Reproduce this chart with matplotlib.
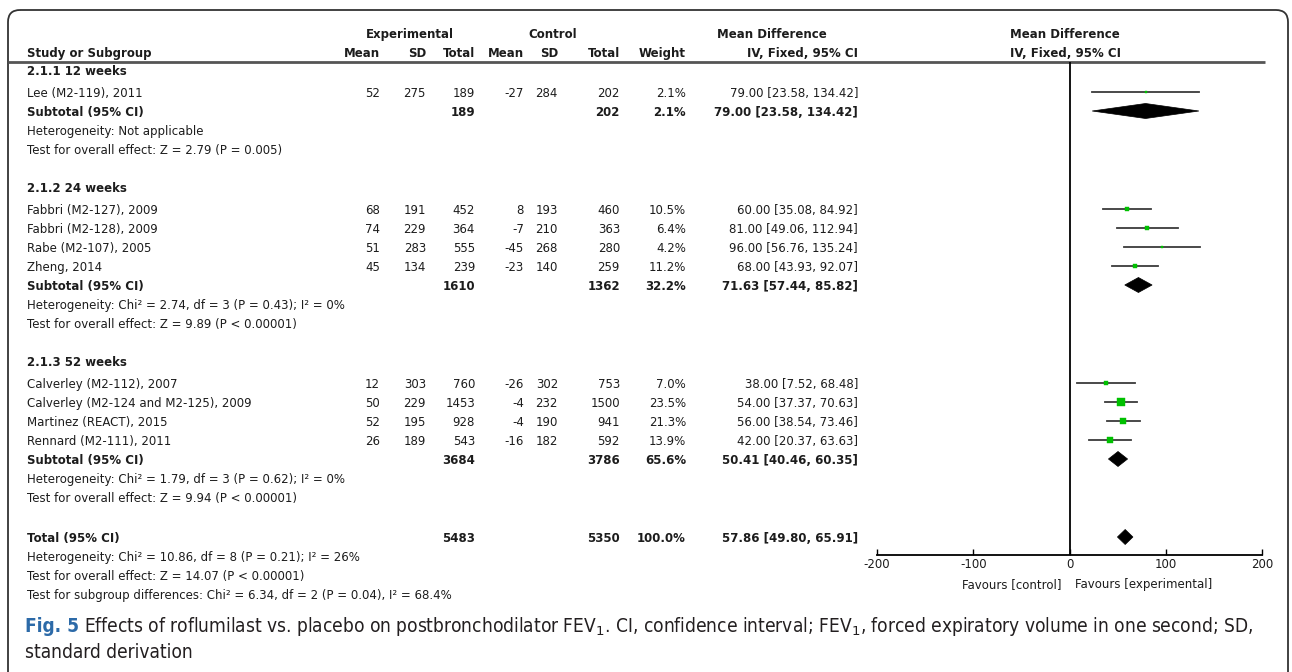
import numpy as np
import matplotlib
matplotlib.use('Agg')
import matplotlib.pyplot as plt
from matplotlib import font_manager
from matplotlib.patches import FancyBboxPatch, Polygon

# subgroups
groups = ["2.1.1 12 weeks", "2.1.2 24 weeks", "2.1.3 52 weeks"]

study_names = [
    ["Lee (M2-119), 2011"],
    ["Fabbri (M2-127), 2009", "Fabbri (M2-128), 2009", "Rabe (M2-107), 2005", "Zheng, 2014"],
    ["Calverley (M2-112), 2007", "Calverley (M2-124 and M2-125), 2009",
     "Martinez (REACT), 2015", "Rennard (M2-111), 2011"],
]
exp_mean = [[52], [68, 74, 51, 45], [12, 50, 52, 26]]
exp_sd = [[275], [191, 229, 283, 134], [303, 229, 195, 189]]
exp_n = [[189], [452, 364, 555, 239], [760, 1453, 928, 543]]
ctl_mean = [[-27], [8, -7, -45, -23], [-26, -4, -4, -16]]
ctl_sd = [[284], [193, 210, 268, 140], [302, 232, 190, 182]]
ctl_n = [[202], [460, 363, 280, 259], [753, 1500, 941, 592]]
weight = [[2.1], [10.5, 6.4, 4.2, 11.2], [7.0, 23.5, 21.3, 13.9]]
md = [[79.00], [60.00, 81.00, 96.00, 68.00], [38.00, 54.00, 56.00, 42.00]]
ci_lo = [[23.58], [35.08, 49.06, 56.76, 43.93], [7.52, 37.37, 38.54, 20.37]]
ci_hi = [[134.42], [84.92, 112.94, 135.24, 92.07], [68.48, 70.63, 73.46, 63.63]]

# subgroup pooled results
sub_exp_n = [189, 1610, 3684]
sub_ctl_n = [202, 1362, 3786]
sub_weight = [2.1, 32.2, 65.6]
sub_md = [79.00, 71.63, 50.41]
sub_lo = [23.58, 57.44, 40.46]
sub_hi = [134.42, 85.82, 60.35]
sub_het = ["Heterogeneity: Not applicable",
           "Heterogeneity: Chi² = 2.74, df = 3 (P = 0.43); I² = 0%",
           "Heterogeneity: Chi² = 1.79, df = 3 (P = 0.62); I² = 0%"]
sub_test = ["Test for overall effect: Z = 2.79 (P = 0.005)",
            "Test for overall effect: Z = 9.89 (P < 0.00001)",
            "Test for overall effect: Z = 9.94 (P < 0.00001)"]

# overall pooled result
total_exp_n = 5483
total_ctl_n = 5350
total_weight = 100.0
total_md = 57.86
total_lo = 49.80
total_hi = 65.91
total_notes = ["Heterogeneity: Chi² = 10.86, df = 8 (P = 0.21); I² = 26%",
               "Test for overall effect: Z = 14.07 (P < 0.00001)",
               "Test for subgroup differences: Chi² = 6.34, df = 2 (P = 0.04), I² = 68.4%"]

xticks = [-200, -100, 0, 100, 200]
xticklabels = ["-200", "-100", "0", "100", "200"]

caption_1 = ("Effects of roflumilast vs. placebo on postbronchodilator FEV$_\\mathrm{1}$. "
             "CI, confidence interval; FEV$_\\mathrm{1}$, forced expiratory volume in one second; SD,")
caption_2 = "standard derivation"

W, H = 1292, 672
FS = 8.5
TXT = '#1c1c1c'
GREEN = '#00c000'

# right edges of the numeric columns (pixels)
col_x = [380, 426, 475, 524, 558, 620, 686, 858]
NAME_X = 27
CAP_X = 25
AX_L, AX_R, AX_TOP, AX_BOT = 877, 1262, 62, 555

fig = plt.figure(figsize=(W / 100, H / 100), dpi=100)
tab = fig.add_axes([0, 0, 1, 1])
tab.set_xlim(0, W)
tab.set_ylim(H, 0)
tab.axis('off')

fp = fig.add_axes([AX_L / W, 1 - AX_BOT / H, (AX_R - AX_L) / W, (AX_BOT - AX_TOP) / H])
fp.set_facecolor('none')
fp.set_xlim(-200, 200)
fp.set_ylim(AX_BOT, AX_TOP)


def put(x, y, s, ha='left', bold=False, **kw):
    return tab.text(x, y, s, ha=ha, va='center_baseline', fontsize=FS, color=TXT,
                    fontweight='bold' if bold else 'normal', **kw)


def put_row(y, vals, bold=False):
    for x, v in zip(col_x, vals):
        if v != "":
            put(x, y, v, ha='right', bold=bold)


def ci_text(m, lo, hi):
    return f"{m:.2f} [{lo:.2f}, {hi:.2f}]"


def diamond(y, m, lo, hi, h=7.5):
    fp.add_patch(Polygon([(lo, y), (m, y - h), (hi, y), (m, y + h)],
                         closed=True, facecolor='black', edgecolor='black', lw=0.5))


# column headers
put(410, 33, "Experimental", ha='center', bold=True)
put(553, 33, "Control", ha='center', bold=True)
put(717, 33, "Mean Difference", bold=True)
put(1010, 33, "Mean Difference", bold=True)
put(NAME_X, 52, "Study or Subgroup", bold=True)
put_row(52, ["Mean", "SD", "Total", "Mean", "SD", "Total", "Weight", "IV, Fixed, 95% CI"], bold=True)
put(1010, 52, "IV, Fixed, 95% CI", bold=True)
tab.plot([8, 1265], [62, 62], color='#555555', lw=2, solid_capstyle='butt')

# body rows
y = 70
for g in range(len(groups)):
    put(NAME_X, y, groups[g], bold=True)
    y += 22
    for i in range(len(study_names[g])):
        put(NAME_X, y, study_names[g][i])
        put_row(y, [str(exp_mean[g][i]), str(exp_sd[g][i]), str(exp_n[g][i]),
                    str(ctl_mean[g][i]), str(ctl_sd[g][i]), str(ctl_n[g][i]),
                    f"{weight[g][i]:.1f}%", ci_text(md[g][i], ci_lo[g][i], ci_hi[g][i])])
        fp.plot([ci_lo[g][i], ci_hi[g][i]], [y, y], color='#3a3a3a', lw=1.3)
        side = 1.45 * np.sqrt(weight[g][i]) * 0.72
        fp.plot(md[g][i], y, marker='s', ms=side, color=GREEN, mec=GREEN, mew=0.3)
        y += 19
    put(NAME_X, y, "Subtotal (95% CI)", bold=True)
    put_row(y, ["", "", str(sub_exp_n[g]), "", "", str(sub_ctl_n[g]),
                f"{sub_weight[g]:.1f}%", ci_text(sub_md[g], sub_lo[g], sub_hi[g])], bold=True)
    diamond(y, sub_md[g], sub_lo[g], sub_hi[g])
    y += 19
    put(NAME_X, y, sub_het[g])
    y += 19
    put(NAME_X, y, sub_test[g])
    y += 38

y += 2
put(NAME_X, y, "Total (95% CI)", bold=True)
put_row(y, ["", "", str(total_exp_n), "", "", str(total_ctl_n),
            f"{total_weight:.1f}%", ci_text(total_md, total_lo, total_hi)], bold=True)
diamond(y, total_md, total_lo, total_hi)
for note in total_notes:
    y += 19
    put(NAME_X, y, note)

# forest axis
fp.axvline(0, color='black', lw=1.3)
for s in ['top', 'left', 'right']:
    fp.spines[s].set_visible(False)
fp.spines['bottom'].set_linewidth(1.3)
fp.set_yticks([])
fp.set_xticks(xticks)
fp.set_xticklabels(xticklabels, fontsize=FS, color=TXT)
fp.tick_params(axis='x', direction='in', length=4.5, width=1.0, pad=2.5)
fp.set_xticks([-200, 200], minor=True)
fp.tick_params(axis='x', which='minor', direction='out', length=3.5, width=1.0)
put(1062, 583, "Favours [control]", ha='right')
put(1075, 583, "Favours [experimental]")

# outer rounded frame
tab.add_patch(FancyBboxPatch((8, 10), 1280, 700, boxstyle="round,pad=0,rounding_size=12",
                             facecolor='none', edgecolor='#333333', lw=1.3))

# caption: prefer a narrow face if one is installed
names = {(f.name, f.stretch) for f in font_manager.fontManager.ttflist}
if any(n == 'Liberation Sans Narrow' for n, s in names):
    cap_font, cap_stretch = ['Liberation Sans Narrow', 'DejaVu Sans'], 'normal'
elif any(n == 'DejaVu Sans' and s == 'condensed' for n, s in names):
    cap_font, cap_stretch = ['DejaVu Sans'], 'condensed'
else:
    cap_font, cap_stretch = ['Liberation Sans', 'DejaVu Sans'], 'normal'
plt.rcParams['mathtext.fontset'] = 'custom'
plt.rcParams['mathtext.rm'] = cap_font[0]

CAP_FS = 13.5
t = tab.text(CAP_X, 624, "Fig. 5", fontsize=CAP_FS, family=cap_font, fontstretch=cap_stretch,
             fontweight='bold', color='#2c6aa8', va='center_baseline')
t2 = tab.text(0, 624, caption_1, fontsize=CAP_FS, family=cap_font, fontstretch=cap_stretch,
              color='#231f20', va='center_baseline')
t3 = tab.text(CAP_X, 650, caption_2, fontsize=CAP_FS, family=cap_font, fontstretch=cap_stretch,
              color='#231f20', va='center_baseline')

# shrink the caption until the first line ends near the right frame
fig.canvas.draw()
r = fig.canvas.get_renderer()
for k in range(3):
    w1 = t.get_window_extent(r).width + 5 + t2.get_window_extent(r).width
    CAP_FS = CAP_FS * (1252 - CAP_X) / w1
    for tt in (t, t2, t3):
        tt.set_fontsize(CAP_FS)
    fig.canvas.draw()
bb = t.get_window_extent(r).transformed(tab.transData.inverted())
t2.set_x(bb.x1 + 5)

plt.savefig("out.png", dpi=100)
